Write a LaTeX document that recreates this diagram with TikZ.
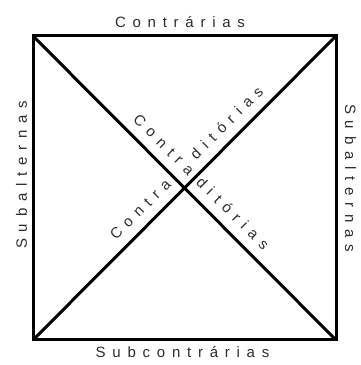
\documentclass[tikz,border=0pt]{standalone}
\usepackage{fontspec}
\setmainfont{Liberation Sans}
\usepackage{tikz}

\definecolor{labelgray}{RGB}{45,45,45}
\tikzset{
    side/.style={line width=3pt, line join=miter},
    tag/.style={text=labelgray, inner sep=0pt, anchor=base,
        font=\fontsize{15}{18}\selectfont\addfontfeature{LetterSpace=45}},
}

\begin{document}
\begin{tikzpicture}[x=1pt, y=1pt]
        \useasboundingbox (0,0) rectangle (361,365);
        \coordinate (A) at (33,329);
        \coordinate (E) at (336,329);
        \coordinate (I) at (33,25);
        \coordinate (O) at (336,25);

        \draw[side] (A) -- (E) -- (O) -- (I) -- cycle;
        \draw[side] (A) -- (O);
        \draw[side] (E) -- (I);

        \node[tag] (contrarias) at (180,337) {Contrárias};
        \node[tag] (subcontrarias) at (182.5,7) {Subcontrárias};
        \node[tag, rotate=90] (subalternasI) at (27,190) {Subalternas};
        \node[tag, rotate=-90] (subalternasO) at (345,187) {Subalternas};

        \node[tag, rotate=-45] (contraAE) at (160.2,216.9) {Contra};
        \node[tag, rotate=45] (ditoriasAE) at (230.3,238.4) {ditórias};
        \node[tag, rotate=45] (contraIO) at (143.9,152.0) {Contra};
        \node[tag, rotate=-45] (ditoriasIO) at (229.1,147.9) {ditórias};
\end{tikzpicture}
\end{document}
